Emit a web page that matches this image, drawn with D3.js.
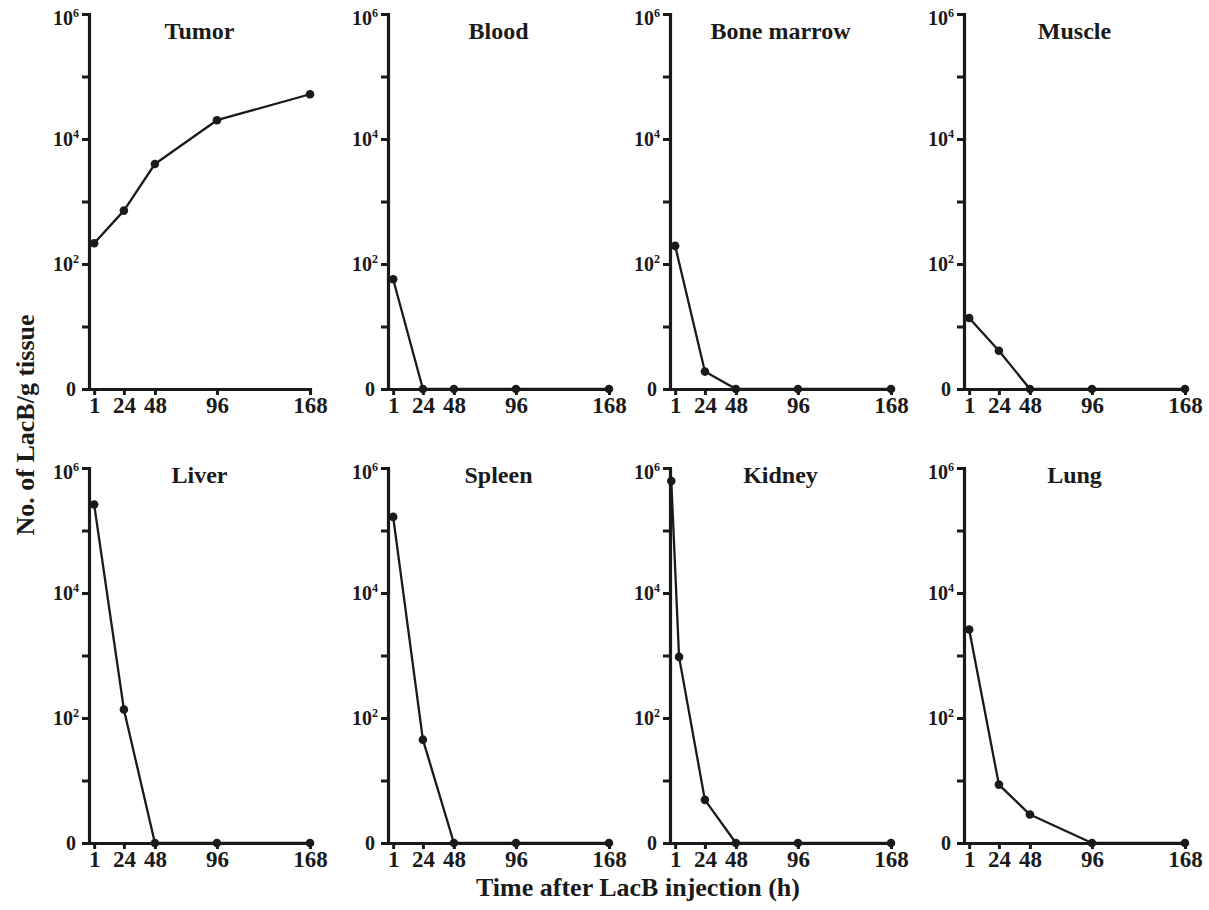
<!DOCTYPE html>
<html><head><meta charset="utf-8">
<script src="https://cdn.jsdelivr.net/npm/d3@7"></script>
<style>
body{margin:0;background:#fff}
svg text{font-family:"Liberation Serif","Times New Roman",serif;font-weight:bold}
</style>
</head><body>
<svg id="c" width="1209" height="910"></svg>
<script>
// ---- data ----
const panelNames = ["Tumor", "Blood", "Bone marrow", "Muscle", "Liver", "Spleen", "Kidney", "Lung"];
const times = [1, 24, 48, 96, 168];
const kidneyTimes = [-2, 4, 24, 48, 96, 168];
const tumor = [215, 715, 3980, 20000, 52000];
const blood = [57, 0, 0, 0, 0];
const boneMarrow = [195, 1.9, 0, 0, 0];
const muscle = [13.7, 4.1, 0, 0, 0];
const liver = [260000, 137, 0, 0, 0];
const spleen = [165000, 45, 0, 0, 0];
const kidney = [620000, 950, 4.9, 0, 0, 0];
const lung = [2600, 8.6, 2.85, 0, 0];
const xTickValues = [1, 24, 48, 96, 168];
const yMajorTicks = [1, 1e2, 1e4, 1e6];
const yTickLabels = [["0", ""], ["10", "2"], ["10", "4"], ["10", "6"]];
const yMinorTicks = [1e1, 1e3, 1e5];
const xTitle = "Time after LacB injection (h)";
const yTitle = "No. of LacB/g tissue";

const panels = [
  {name: panelNames[0], t: times, v: tumor},
  {name: panelNames[1], t: times, v: blood},
  {name: panelNames[2], t: times, v: boneMarrow},
  {name: panelNames[3], t: times, v: muscle},
  {name: panelNames[4], t: times, v: liver},
  {name: panelNames[5], t: times, v: spleen},
  {name: panelNames[6], t: kidneyTimes, v: kidney},
  {name: panelNames[7], t: times, v: lung}
];

// ---- layout ----
const colX = [89, 388, 670, 964];
const rowTop = [14, 468];
const titleDy = [25, 15];
const plotW = 221, plotH = 375;
const ink = "#1a1a1a";

const svg = d3.select("#c");

const x = d3.scaleLinear().domain([-3, 168]).range([0, plotW]);
const yLog = d3.scaleLog().domain([1, 1e6]).range([plotH, 0]);
const y = v => yLog(Math.max(v, 1));

panels.forEach((p, i) => {
  const col = i % 4, row = Math.floor(i / 4);
  const g = svg.append("g").attr("transform", `translate(${colX[col]},${rowTop[row]})`);

  // y axis
  const ya = g.append("g").call(
    d3.axisLeft(yLog).tickValues(yMajorTicks.concat(yMinorTicks)).tickSize(7).tickSizeOuter(0).tickFormat(() => "")
  );
  ya.select(".domain").attr("stroke", ink).attr("stroke-width", 3.2).attr("stroke-linecap", "square");
  ya.selectAll(".tick line").attr("stroke", ink).attr("stroke-width", 3);

  // y labels
  yMajorTicks.forEach((tv, k) => {
    const lab = yTickLabels[k];
    const shift = tv === 1e6 ? 4 : 0;
    const t = g.append("text")
      .attr("x", lab[1] ? -10 : -13)
      .attr("y", yLog(tv) + 7 + shift)
      .attr("text-anchor", "end")
      .attr("font-size", 20).attr("fill", ink);
    t.append("tspan").text(lab[0]);
    if (lab[1]) t.append("tspan").attr("dy", -8).attr("font-size", 12).text(lab[1]);
  });

  // x axis
  const xa = g.append("g").attr("transform", `translate(0,${plotH})`).call(
    d3.axisBottom(x).tickValues(xTickValues).tickSize(6).tickSizeOuter(0)
  );
  xa.select(".domain").attr("stroke", ink).attr("stroke-width", 3.2).attr("stroke-linecap", "square");
  xa.selectAll(".tick line").attr("stroke", ink).attr("stroke-width", 3);
  xa.selectAll(".tick text")
    .attr("y", 24).attr("dy", 0)
    .attr("font-size", 23).attr("fill", ink);

  // line + points
  const pts = p.t.map((tt, k) => [tt, p.v[k]]);
  g.append("path").datum(pts)
    .attr("fill", "none").attr("stroke", ink).attr("stroke-width", 2.3)
    .attr("stroke-linejoin", "round")
    .attr("d", d3.line().x(d => x(d[0])).y(d => y(d[1])));
  g.selectAll("circle.pt").data(pts).join("circle")
    .attr("class", "pt")
    .attr("cx", d => x(d[0])).attr("cy", d => y(d[1])).attr("r", 4.3)
    .attr("fill", ink);

  // title
  g.append("text")
    .attr("x", plotW / 2).attr("y", titleDy[row])
    .attr("text-anchor", "middle")
    .attr("font-size", 24).attr("fill", ink)
    .text(p.name);
});

// axis titles
svg.append("text")
  .attr("x", 638).attr("y", 896)
  .attr("text-anchor", "middle")
  .attr("font-size", 26).attr("fill", ink)
  .text(xTitle);

svg.append("text")
  .attr("transform", "translate(34,425) rotate(-90)")
  .attr("text-anchor", "middle")
  .attr("font-size", 26).attr("fill", ink)
  .text(yTitle);

// remove d3 axis default font attrs so CSS applies
svg.selectAll("g[font-family]").attr("font-family", null).attr("font-size", null);
</script>
</body></html>
